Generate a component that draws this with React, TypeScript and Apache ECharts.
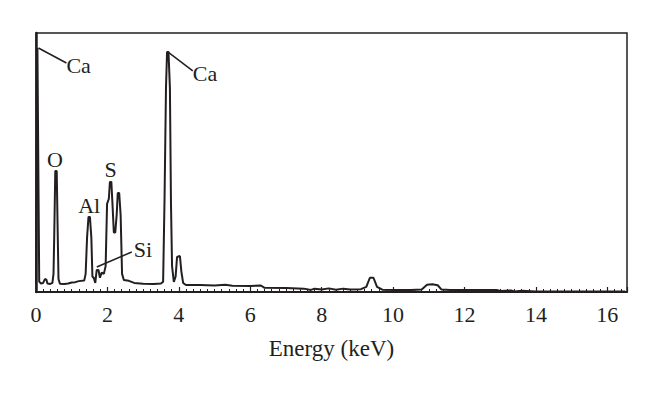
import React, { useEffect, useRef } from "react";
import * as echarts from "echarts";

// Energy (keV) and relative counts of the EDS spectrum
const energies = [
  0.0, 0.04, 0.09, 0.14, 0.2, 0.25, 0.29, 0.32, 0.4, 0.46, 0.49, 0.51, 0.54, 0.58, 0.61, 0.63, 0.67,
  0.8, 0.9, 1.0, 1.1, 1.2, 1.35, 1.39, 1.43, 1.47, 1.51, 1.55, 1.58, 1.62, 1.66, 1.7, 1.75, 1.79,
  1.84, 1.9, 1.95, 1.99, 2.04, 2.07, 2.11, 2.14, 2.18, 2.22, 2.26, 2.29, 2.33, 2.37, 2.41, 2.46,
  2.6, 2.75, 3.0, 3.3, 3.5, 3.56, 3.6, 3.64, 3.67, 3.71, 3.75, 3.78, 3.81, 3.86, 3.91, 3.95, 4.03,
  4.07, 4.12, 4.2, 4.6, 5.0, 5.3, 5.5, 6.0, 6.3, 6.4, 7.0, 7.5, 7.7, 7.8, 8.0, 8.2, 8.4, 8.6, 8.8,
  9.1, 9.25, 9.35, 9.45, 9.55, 9.7, 10.0, 10.5, 10.8, 10.95, 11.1, 11.25, 11.35, 11.6, 12.0, 12.5,
  12.9, 13.0, 13.3, 13.4, 13.6, 14.0, 16.5,
];
const counts = [
  3, 94.2, 4, 3.3, 3.5, 5.0, 4.8, 3.3, 3.1, 3.5, 7, 21, 46.7, 46.7, 21, 5, 3.2,
  3.1, 3.3, 3.7, 3.8, 4.2, 4.4, 7, 21, 29, 29, 21, 6, 5.4, 3.5, 8.5, 8.5, 5.5,
  7.5, 7, 10, 34, 36, 42.5, 42.5, 34.4, 23, 23, 30, 38.2, 38.2, 29.7, 7, 4.6,
  4.3, 3.5, 3.2, 3.1, 3.3, 4, 36.3, 78.8, 92.7, 92.7, 78.8, 34, 10, 3.9, 6, 13.5, 13.9,
  8, 3.5, 2.7, 2.7, 2.5, 2.8, 2.4, 2.3, 2.5, 1.6, 1.5, 1.3, 0.8, 1.3, 1.0, 1.4, 0.9, 1.3, 1.0,
  1.1, 2, 5.5, 5.5, 2, 0.9, 0.8, 0.8, 1.0, 2.8, 3.0, 2.6, 1.0, 0.8, 0.8, 0.8,
  0.8, 0.4, 0.6, 0.2, 0.5, 0.2, 0.2,
];

// Peak annotations: label, anchor energy, anchor count
const peakLabels = ["Ca", "Ca", "O", "Al", "S", "Si"];
const peakEnergies = [0.04, 3.69, 0.56, 1.49, 2.09, 1.73];
const peakCounts = [94.2, 92.7, 46.7, 29, 42.5, 8.5];

const xTickLabels = ["0", "2", "4", "6", "8", "10", "12", "14", "16"];

const INK = "#231f20";
const FONT = "'Liberation Serif', 'DejaVu Serif', serif";

export default function App() {
  const ref = useRef<HTMLDivElement>(null);

  useEffect(() => {
    if (!ref.current) return;
    const chart = echarts.init(ref.current, undefined, { renderer: "svg" });
    const data = energies.map((e, i) => [e, counts[i]]);

    chart.setOption({
      animation: false,
      backgroundColor: "#ffffff",
      grid: {
        left: 36,
        right: 33,
        top: 33,
        bottom: 104,
        show: true,
        borderColor: INK,
        borderWidth: 1.5,
        backgroundColor: "transparent",
      },
      xAxis: {
        type: "value",
        min: 0,
        max: 16.55,
        interval: 2,
        name: "Energy (keV)",
        nameLocation: "middle",
        nameGap: 45,
        nameTextStyle: { fontFamily: FONT, fontSize: 23, color: INK },
        axisLine: { show: true, lineStyle: { color: INK, width: 2 } },
        axisTick: { show: true, inside: true, length: 5, lineStyle: { color: INK, width: 1.2 } },
        minorTick: { show: true, splitNumber: 10, length: 3, lineStyle: { color: INK, width: 1 } },
        splitLine: { show: false },
        minorSplitLine: { show: false },
        axisLabel: {
          fontFamily: FONT,
          fontSize: 22,
          color: INK,
          margin: 11,
          formatter: (v: number) => {
            const s = String(Math.round(v));
            return Math.abs(v - Math.round(v)) < 1e-6 && xTickLabels.includes(s) ? s : "";
          },
        },
      },
      yAxis: {
        type: "value",
        min: 0,
        max: 100,
        axisLine: { show: true, lineStyle: { color: INK, width: 2.5 } },
        axisTick: { show: false },
        axisLabel: { show: false },
        splitLine: { show: false },
      },
      series: [
        {
          type: "line",
          data,
          symbol: "none",
          lineStyle: { color: INK, width: 2 },
          z: 3,
        },
      ],
    });

    const P = peakEnergies.map((e, i) => chart.convertToPixel({ gridIndex: 0 }, [e, peakCounts[i]]) as number[]);
    const textStyle = (text: string, x: number, y: number, align: string) => ({
      type: "text",
      x,
      y,
      style: { text, fill: INK, font: `22px ${FONT}`, align, verticalAlign: "middle" },
      z: 10,
    });
    const leader = (x1: number, y1: number, x2: number, y2: number) => ({
      type: "line",
      shape: { x1, y1, x2, y2 },
      style: { stroke: INK, lineWidth: 1.5 },
      z: 10,
    });
    const els: any[] = [];
    // Ca (0 keV)
    els.push(leader(P[0][0] + 1, P[0][1], P[0][0] + 29, P[0][1] + 15));
    els.push(textStyle(peakLabels[0], P[0][0] + 29, P[0][1] + 17, "left"));
    // Ca (3.69 keV)
    els.push(leader(P[1][0], P[1][1], P[1][0] + 25, P[1][1] + 19));
    els.push(textStyle(peakLabels[1], P[1][0] + 25, P[1][1] + 22, "left"));
    // O
    els.push(textStyle(peakLabels[2], P[2][0] - 1, P[2][1] - 12, "center"));
    // Al
    els.push(textStyle(peakLabels[3], P[3][0], P[3][1] - 11, "center"));
    // S
    els.push(textStyle(peakLabels[4], P[4][0], P[4][1] - 12, "center"));
    // Si
    els.push(leader(P[5][0] - 1, P[5][1] - 3, P[5][0] + 34, P[5][1] - 18));
    els.push(textStyle(peakLabels[5], P[5][0] + 36, P[5][1] - 20, "left"));

    chart.setOption({ graphic: { elements: els } });

    return () => chart.dispose();
  }, []);

  return (
    <div
      ref={ref}
      style={{ position: "absolute", left: 0, top: 0, width: 660, height: 396, background: "#fff" }}
    />
  );
}
